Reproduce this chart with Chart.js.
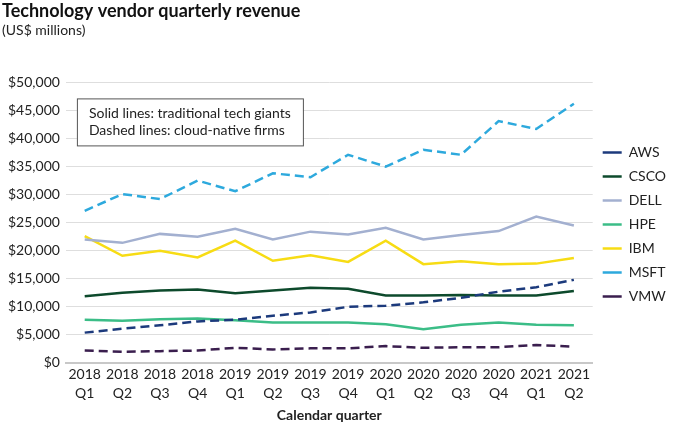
<!DOCTYPE html>
<html>
<head>
<meta charset="utf-8">
<script src="https://cdn.jsdelivr.net/npm/chart.js@4.4.1/dist/chart.umd.min.js"></script>
<style>
  html, body { margin: 0; padding: 0; background: #fff; }
  #wrap { width: 680px; height: 422px; }
</style>
</head>
<body>
<div id="wrap"><canvas id="revChart"></canvas></div>
<script>
const quarters = [
  ["2018", "Q1"], ["2018", "Q2"], ["2018", "Q3"], ["2018", "Q4"],
  ["2019", "Q1"], ["2019", "Q2"], ["2019", "Q3"], ["2019", "Q4"],
  ["2020", "Q1"], ["2020", "Q2"], ["2020", "Q3"], ["2020", "Q4"],
  ["2021", "Q1"], ["2021", "Q2"],
];

// revenue, US$ millions
const aws = [5400, 6100, 6700, 7400, 7700, 8400, 9000, 10000, 10200, 10800, 11600, 12700, 13500, 14800];
const csco = [11900, 12500, 12900, 13100, 12400, 12900, 13400, 13200, 12000, 12000, 12100, 12000, 12000, 12800];
const dell = [22000, 21400, 23000, 22500, 23900, 22000, 23400, 22900, 24100, 22000, 22800, 23500, 26100, 24500];
const hpe = [7700, 7500, 7800, 7900, 7600, 7200, 7200, 7200, 6900, 6000, 6800, 7200, 6800, 6700];
const ibm = [22600, 19100, 20000, 18800, 21800, 18200, 19200, 18000, 21800, 17600, 18100, 17600, 17700, 18700];
const msft = [27100, 30100, 29200, 32500, 30600, 33800, 33100, 37100, 35000, 38000, 37100, 43100, 41700, 46200];
const vmw = [2200, 2000, 2100, 2200, 2700, 2400, 2600, 2600, 3000, 2700, 2800, 2800, 3200, 2900];

const yTicks = [0, 5000, 10000, 15000, 20000, 25000, 30000, 35000, 40000, 45000, 50000];

const FONT = "Lato, 'Open Sans', sans-serif";
const DASH = [9, 5];

function series(label, data, color, dashed) {
  return {
    label: label,
    data: data,
    borderColor: color,
    backgroundColor: color,
    borderWidth: 2.5,
    borderDash: dashed ? DASH : [],
    pointRadius: 0,
    tension: 0,
    fill: false,
  };
}

// note box in the top-left of the plot
const noteBox = {
  id: "noteBox",
  afterDatasetsDraw(chart) {
    const { ctx, chartArea } = chart;
    const x = chartArea.left + 11;
    const y = chartArea.top + 16;
    const w = 226;
    const h = 47;
    ctx.save();
    ctx.fillStyle = "#fff";
    ctx.fillRect(x, y, w, h);
    ctx.strokeStyle = "#555";
    ctx.lineWidth = 1;
    ctx.strokeRect(x + 0.5, y + 0.5, w, h);
    ctx.fillStyle = "#222";
    ctx.font = "14px " + FONT;
    ctx.textBaseline = "middle";
    ctx.fillText("Solid lines: traditional tech giants", x + 12, y + 15);
    ctx.fillText("Dashed lines: cloud-native firms", x + 12, y + 32);
    ctx.restore();
  },
};

let revChart = new Chart(document.getElementById("revChart").getContext("2d"), {
  type: "line",
  data: {
    labels: quarters,
    datasets: [
      series("AWS", aws, "#1c3a7c", true),
      series("CSCO", csco, "#0d4a2c", false),
      series("DELL", dell, "#a3b0d0", false),
      series("HPE", hpe, "#3bbd87", false),
      series("IBM", ibm, "#f7dc14", false),
      series("MSFT", msft, "#2da9dd", true),
      series("VMW", vmw, "#3a1e4e", true),
    ],
  },
  options: {
    responsive: true,
    maintainAspectRatio: false,
    animation: false,
    layout: { padding: { left: 2, right: 4, top: 0, bottom: 0 } },
    scales: {
      x: {
        offset: true,
        grid: { display: false, drawTicks: false },
        border: { display: true, color: "#c8c8c8", width: 2 },
        ticks: {
          color: "#222",
          font: { family: FONT, size: 14, lineHeight: 1.36 },
          padding: 2,
          maxRotation: 0,
          autoSkip: false,
        },
        title: {
          display: true,
          text: "Calendar quarter",
          color: "#222",
          font: { family: FONT, size: 14, weight: "bold", lineHeight: 1 },
          padding: { top: 3, bottom: 0 },
        },
      },
      y: {
        min: 0,
        max: 50000,
        afterBuildTicks: (axis) => {
          axis.ticks = yTicks.map((v) => ({ value: v }));
        },
        grid: { color: "#dedede", drawTicks: false },
        border: { display: false },
        ticks: {
          color: "#222",
          font: { family: FONT, size: 14 },
          padding: 6,
          callback: (value) => "$" + value.toLocaleString("en-US"),
        },
      },
    },
    plugins: {
      title: {
        display: true,
        text: "Technology vendor quarterly revenue",
        align: "start",
        color: "#111",
        font: { family: FONT, size: 18, weight: "bold" },
        padding: { top: 0, bottom: 0 },
      },
      subtitle: {
        display: true,
        text: "(US$ millions)",
        align: "start",
        color: "#222",
        font: { family: FONT, size: 14 },
        padding: { top: 0, bottom: 44 },
      },
      legend: {
        position: "right",
        title: {
          // empty title only pushes the items down a little
          display: true,
          text: " ",
          font: { family: FONT, size: 14 },
          padding: { top: 5, bottom: 5 },
        },
        labels: {
          usePointStyle: true,
          pointStyle: "line",
          pointStyleWidth: 19,
          boxHeight: 14,
          color: "#222",
          font: { family: FONT, size: 14 },
          padding: 10,
        },
      },
      tooltip: { enabled: false },
    },
  },
  plugins: [noteBox],
});
</script>
</body>
</html>
